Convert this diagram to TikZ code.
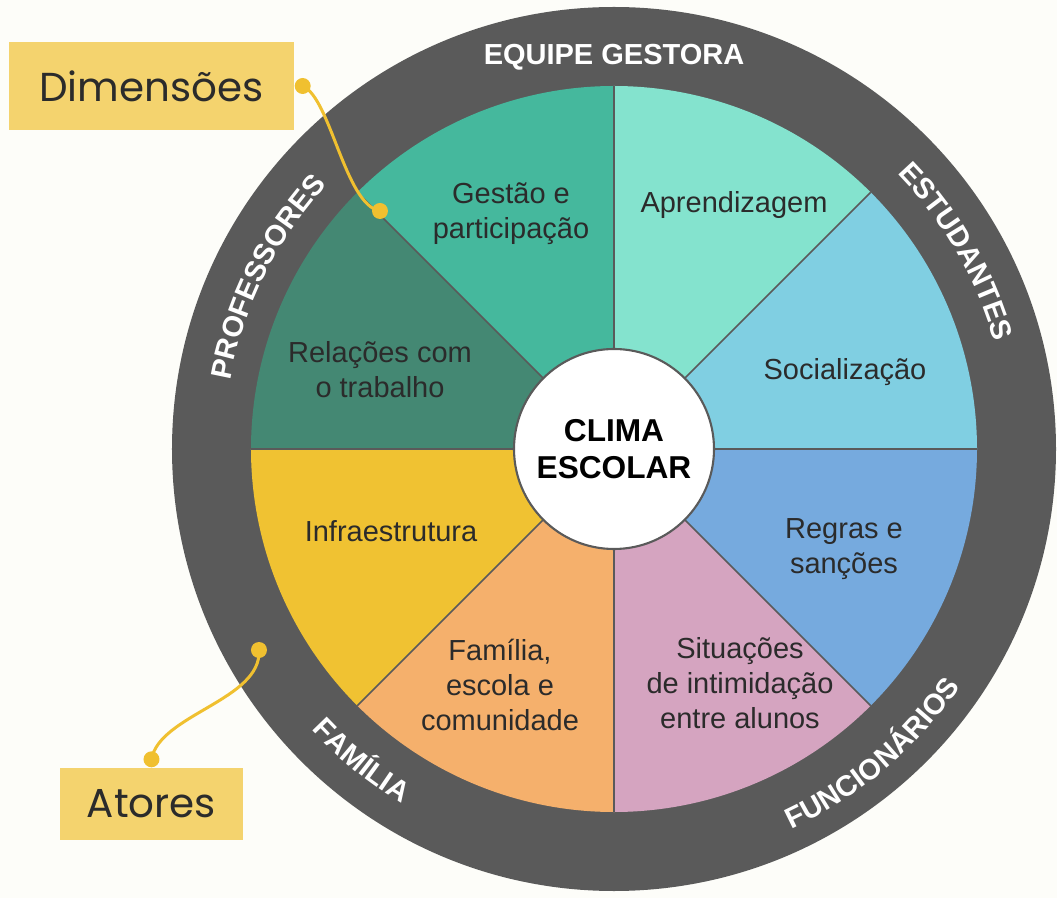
\documentclass[tikz,border=0pt]{standalone}
\usepackage{fontspec}
\setmainfont{Liberation Sans}
\newfontfamily\calloutfont{Poppins}
\usepackage{xcolor}
\usetikzlibrary{positioning,decorations.text}
\definecolor{pagebg}{RGB}{253,253,249}
\definecolor{ringgray}{RGB}{90,90,90}
\definecolor{inktext}{RGB}{43,43,43}
\definecolor{socialblue}{RGB}{128,207,226}
\definecolor{learnmint}{RGB}{132,227,206}
\definecolor{gestteal}{RGB}{69,184,157}
\definecolor{relgreen}{RGB}{68,136,115}
\definecolor{infrayellow}{RGB}{240,194,50}
\definecolor{familyorange}{RGB}{245,176,108}
\definecolor{bullypink}{RGB}{213,164,192}
\definecolor{rulesblue}{RGB}{118,170,222}
\definecolor{calloutyellow}{RGB}{244,211,110}
\definecolor{linkgold}{RGB}{240,192,48}
\newcommand{\ringfont}{\fontsize{16.5}{20}\selectfont\bfseries\color{white}}

\tikzset{
  dimtext/.style={align=center, text=inktext, font=\fontsize{16.5}{20}\selectfont},
  calloutbox/.style={fill=calloutyellow, inner sep=0pt, text=inktext,
                     font=\calloutfont\fontsize{23}{28}\selectfont},
  linkdot/.style={circle, fill=linkgold, inner sep=0pt, minimum size=0.32cm},
  linkline/.style={draw=linkgold, line width=1.7pt},
  ringlabel/.style={decorate, decoration={text along path, text align=center,
                    text={|\ringfont|#1}}}
}

\begin{document}
\begin{tikzpicture}
            \useasboundingbox[fill=pagebg] (-12.28,-8.98) rectangle (8.86,8.98);
            % outer ring of actors
            \fill[ringgray] (0,0) circle (8.84);
            % the eight dimensions
            \foreach \a/\c in {0/socialblue,45/learnmint,90/gestteal,135/relgreen,
                               180/infrayellow,225/familyorange,270/bullypink,315/rulesblue}
                \fill[\c] (0,0) -- (\a:7.26) arc[start angle=\a, delta angle=45, radius=7.26] -- cycle;
            \foreach \a in {0,45,...,315}
                \draw[ringgray, line width=0.9pt] (0,0) -- (\a:7.26);
            \node[circle, draw=ringgray, line width=1.2pt, fill=white, minimum size=4cm,
                  align=center, font=\fontsize{18}{21}\selectfont\bfseries] (clima) at (0,0) {
                CLIMA\\ESCOLAR
            };
            \node[dimtext] (gestao) at (-2.06,4.70) {Gestão e\\participação};
            \node[dimtext] (aprend) at (2.40,4.88) {Aprendizagem};
            \node[dimtext] (social) at (4.62,1.54) {Socialização};
            \node[dimtext] (regras) at (4.60,-2.00) {Regras e\\sanções};
            \node[dimtext] (intimid) at (2.52,-4.68) {Situações\\de intimidação\\entre alunos};
            \node[dimtext] (familia) at (-2.28,-4.72) {Família,\\escola e\\comunidade};
            \node[dimtext] (infra) at (-4.46,-1.64) {Infraestrutura};
            \node[dimtext] (relacoes) at (-4.68,1.58) {Relações com\\o trabalho};
            % actors on the ring
            \node[font=\ringfont] (equipe) at (0,7.84) {EQUIPE GESTORA};
            \path[ringlabel=ESTUDANTES] (65:7.9) arc[start angle=65, end angle=-5, radius=7.9];
            \path[ringlabel=PROFESSORES] (188.6:7.8) arc[start angle=188.6, end angle=118.6, radius=7.8];
            \path[ringlabel=FAMÍLIA] (196:8.26) arc[start angle=196, end angle=266, radius=8.26];
            \path[ringlabel=FUNCIONÁRIOS] (275.3:8.4) arc[start angle=275.3, end angle=345.3, radius=8.4];
            % callouts
            \node[calloutbox, minimum width=5.7cm, minimum height=1.76cm] (dimbox) at (-9.25,7.26) {Dimensões};
            \node[calloutbox, minimum width=3.66cm, minimum height=1.44cm] (atorbox) at (-9.25,-7.10) {Atores};
            \node[linkdot, right=0cm of dimbox] (dimdot) {};
            \node[linkdot, above=0cm of atorbox] (atordot) {};
            \node[linkdot] (dimtip) at (-4.68,4.76) {};
            \node[linkdot] (atortip) at (-7.10,-4.02) {};
            \draw[linkline] (dimdot.center) .. controls +(0.56,-0.24) and +(-0.7,0.12) .. (dimtip.center);
            \draw[linkline] (atordot.center) .. controls +(0.16,0.9) and +(0.06,-1.0) .. (atortip.center);
        \end{tikzpicture}
\end{document}
